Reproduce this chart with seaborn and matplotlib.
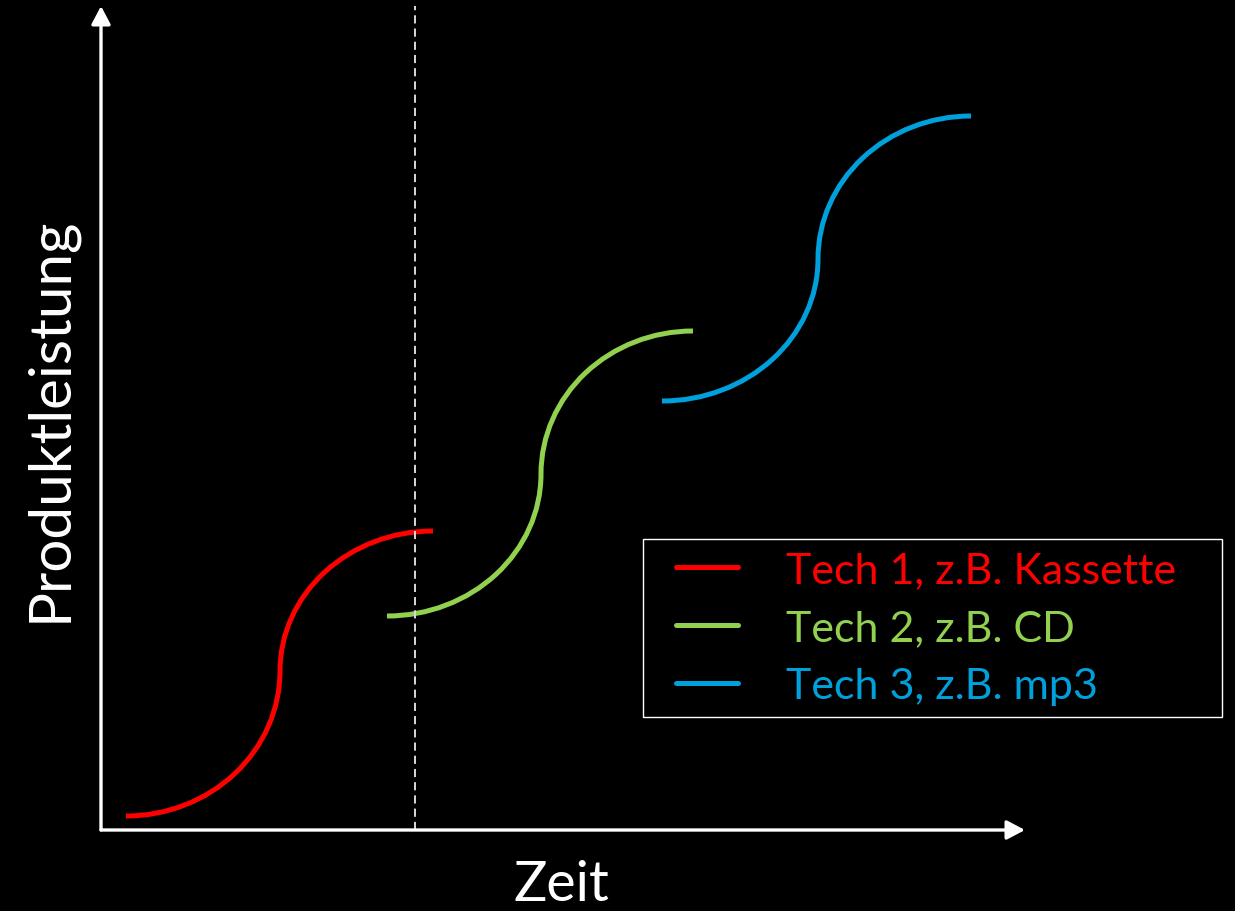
import matplotlib.pyplot as plt
import seaborn as sns
from matplotlib.patches import Arc, Rectangle
from matplotlib.lines import Line2D

# Technologien (S-Kurven)
labels = ['Tech 1, z.B. Kassette', 'Tech 2, z.B. CD', 'Tech 3, z.B. mp3']
colors = ['#ff0000', '#92d050', '#00a0dc']
# Start-, Wende- und Endpunkt jeder S-Kurve (Zeit, Produktleistung)
start_zeit = [25, 286, 561]
start_leistung = [14, 214, 429]
wende_zeit = [179, 440, 717]
wende_leistung = [159, 356, 571]
end_zeit = [332, 592, 870]
end_leistung = [299, 499, 714]
grenze_zeit = 314  # gestrichelte Linie

sns.set_theme(style='dark', rc={'figure.facecolor': 'black', 'axes.facecolor': 'black',
                                'savefig.facecolor': 'black'})
plt.rcParams['font.family'] = ['Lato', 'DejaVu Sans']

W, H = 1235, 912
fig = plt.figure(figsize=(W / 100, H / 100), dpi=100)
ax = fig.add_axes([101 / W, 81 / H, 922 / W, 824 / H])
ax.set_xlim(0, 922)
ax.set_ylim(0, 824)
ax.axis('off')

# Achsen mit Pfeilen
pfeil = dict(arrowstyle='-|>,head_length=0.55,head_width=0.29', color='white',
             lw=2.4, mutation_scale=20, shrinkA=0, shrinkB=0)
ax.annotate('', xy=(924, 0), xytext=(0, 0), arrowprops=pfeil, annotation_clip=False)
ax.annotate('', xy=(0, 824), xytext=(0, 0), arrowprops=pfeil, annotation_clip=False)

# gestrichelte Linie
ax.plot([grenze_zeit, grenze_zeit], [0, 824], color='#d9d9d9', lw=1.4,
        linestyle=(0, (4.2, 2.6)), clip_on=False)

lw = 3.6
for i in range(3):
    sx, sy = start_zeit[i], start_leistung[i]
    wx, wy = wende_zeit[i], wende_leistung[i]
    ex, ey = end_zeit[i], end_leistung[i]
    unten = Arc((sx, wy), 2 * (wx - sx), 2 * (wy - sy), theta1=270, theta2=360,
                color=colors[i], lw=lw, capstyle='butt')
    oben = Arc((ex, wy), 2 * (ex - wx), 2 * (ey - wy), theta1=90, theta2=180,
               color=colors[i], lw=lw, capstyle='butt')
    ax.add_patch(unten)
    ax.add_patch(oben)

# Legende ohne eigenen Rahmen, Rahmen separat
handles = [Line2D([], [], color=c, lw=lw) for c in colors]
leg = ax.legend(handles, labels, loc='center left',
                bbox_to_anchor=(676 / W, 1 - 629 / H),
                bbox_transform=fig.transFigure, borderaxespad=0, borderpad=0,
                fontsize=31, labelcolor='linecolor', frameon=False,
                handlelength=1.44, handletextpad=1.11, labelspacing=0.47)
fig.patches.append(Rectangle((643 / W, 1 - 718 / H), 579 / W, 178 / H,
                             transform=fig.transFigure, fill=False,
                             edgecolor='white', lw=1.0))

fig.text(50 / W, 1 - 419 / H, 'Produktleistung', rotation=90, ha='center', va='center',
         fontsize=42, color='white')
fig.text(561 / W, 1 - 886 / H, 'Zeit', ha='center', va='center', fontsize=40, color='white')

fig.savefig('out.png', dpi=100, facecolor='black')
